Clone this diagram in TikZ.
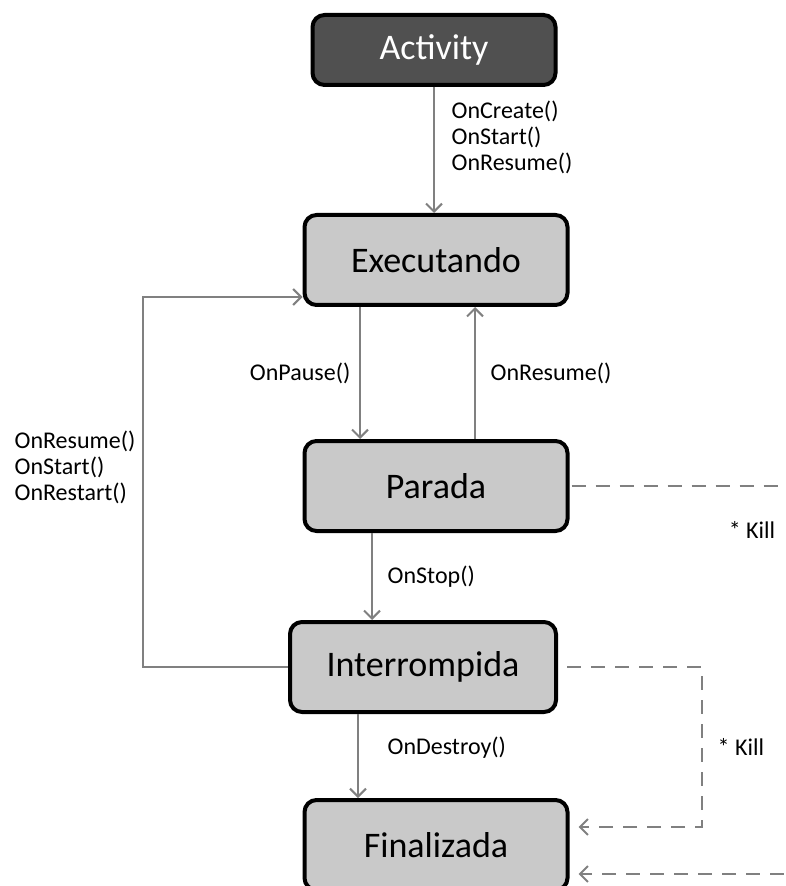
\documentclass[tikz,border=0pt]{standalone}
\usepackage{fontspec}
\setmainfont{Carlito}
\usetikzlibrary{arrows.meta,positioning}

\definecolor{actgray}{HTML}{505050}
\definecolor{boxgray}{HTML}{C9C9C9}
\definecolor{linegray}{HTML}{808080}

\begin{document}
\begin{tikzpicture}[x=0.5pt, y=-0.5pt, node distance=105pt, >={Straight Barb[length=4pt,width=8pt]},
    state/.style={rectangle, draw, line width=2pt, rounded corners=6pt, fill=boxgray, minimum width=131.5pt, minimum height=45pt, font=\fontsize{18}{20}\selectfont},
    line/.style={draw, ->, line width=1pt, color=linegray},
    kill/.style={draw, dash pattern=on 7pt off 5pt, line width=1pt, color=linegray},
    lbl/.style={font=\fontsize{12}{13}\selectfont, align=left, text=black}]

    \useasboundingbox (0,0) rectangle (785,886);
    \clip (0,0) rectangle (785,886);

    \node [state, fill=actgray, text=white, minimum width=121.5pt, minimum height=35pt] (act) at (434,50) {Activity};
    \node [state, below of=act, xshift=1pt] (exec) {Executando};
    \node [state, below of=exec, node distance=113pt] (par) {Parada};
    \node [state, below of=par, node distance=90.5pt, xshift=-6.5pt, minimum width=133pt] (int) {Interrompida};
    \node [state, below of=int, node distance=89pt, xshift=6.5pt] (fin) {Finalizada};

    \draw[line] (act) -- node[lbl, right=5pt, pos=0.4] {OnCreate()\\OnStart()\\OnResume()} (act |- exec.north);
    \draw[line] ([xshift=-38pt]exec.south) -- node[lbl, left=1pt] {OnPause()} ([xshift=-38pt]exec.south |- par.north);
    \draw[line] ([xshift=19.5pt]par.north) -- node[lbl, right=4pt] {OnResume()} ([xshift=19.5pt]par.north |- exec.south);
    \draw[line] ([xshift=-32pt]par.south) -- node[lbl, right=4pt] {OnStop()} ([xshift=-32pt]par.south |- int.north);
    \draw[line] ([xshift=-32.5pt]int.south) -- node[lbl, right=11pt, pos=0.4] {OnDestroy()} ([xshift=-32.5pt]int.south |- fin.north);
    \draw[line] (int.west) -- ++(-145,0) |- node[lbl, left=0pt, pos=0.27] {OnResume()\\OnStart()\\OnRestart()} ([yshift=5pt]exec.south west);

    \draw[kill, ->, shorten <=1pt, shorten >=4.5pt] (par.east) -- ++(250,0) |- ([yshift=-14.5pt]fin.east);
    \node [lbl] (kill1) at (752,530) {* Kill};
    \draw[kill, ->, shorten <=4.5pt, shorten >=4.5pt] (int.east) -- (702,667) |- node[lbl, right=4pt, pos=0.25] {* Kill} ([yshift=9pt]fin.east);

\end{tikzpicture}
\end{document}
